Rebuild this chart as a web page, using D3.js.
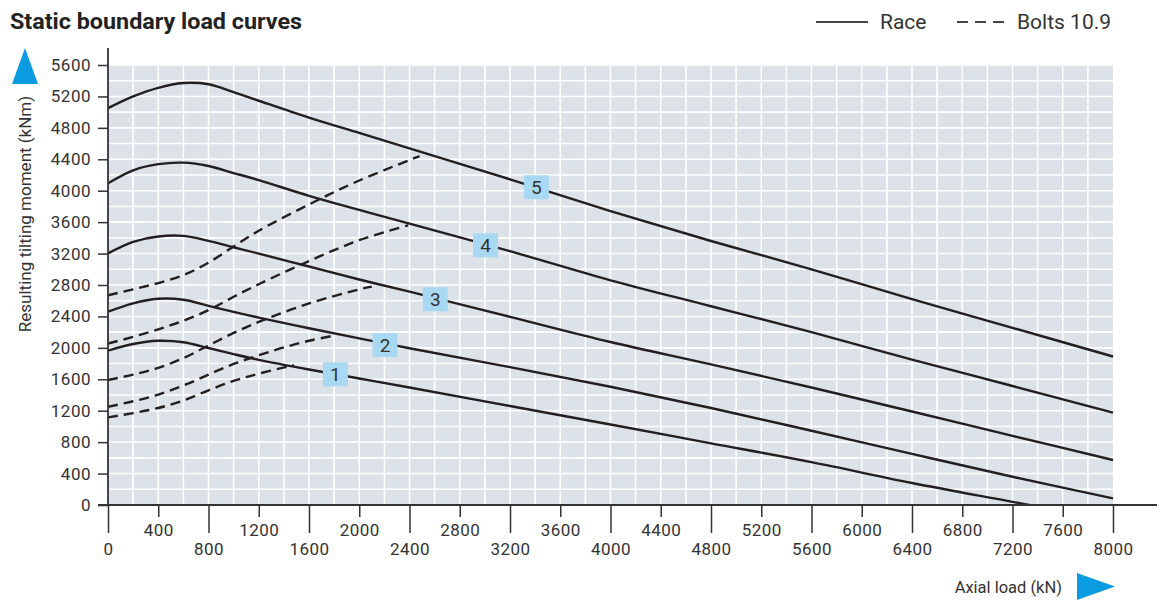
<!DOCTYPE html>
<html>
<head>
<meta charset="utf-8">
<script src="https://cdn.jsdelivr.net/npm/d3@7"></script>
<style>
  html, body { margin: 0; padding: 0; background: #fff; }
  svg { display: block; font-family: Roboto, "Noto Sans", sans-serif; }
</style>
</head>
<body>
<svg id="chart" width="1167" height="600"></svg>
<script>
// ---- data ----
const raceLoads = [0, 200, 400, 600, 800, 1000, 1200, 1600, 2000, 2400, 3200, 4000, 4800, 5600, 6400, 7200, 8000];
const race1 = [1964, 2049, 2090, 2072, 1998, 1920, 1848, 1725, 1610, 1495, 1260, 1025, 785, 545, 280, 40, -200];
const race2 = [2460, 2567, 2625, 2612, 2535, 2458, 2385, 2250, 2120, 1995, 1755, 1505, 1235, 945, 650, 360, 85];
const race3 = [3203, 3350, 3418, 3425, 3362, 3280, 3200, 3035, 2870, 2715, 2395, 2075, 1790, 1495, 1190, 880, 573];
const race4 = [4094, 4260, 4338, 4357, 4315, 4225, 4135, 3935, 3755, 3580, 3230, 2860, 2530, 2200, 1850, 1515, 1175];
const race5 = [5050, 5200, 5310, 5370, 5355, 5255, 5145, 4930, 4735, 4540, 4145, 3740, 3360, 3000, 2620, 2255, 1890];

const bolt1 = [[0,1115],[200,1170],[400,1235],[600,1330],[800,1460],[1000,1580],[1200,1672],[1480,1780]];
const bolt2 = [[0,1250],[200,1320],[400,1405],[600,1520],[800,1660],[1000,1795],[1200,1905],[1400,2005],[1600,2090],[1810,2160]];
const bolt3 = [[0,1590],[200,1660],[400,1745],[600,1870],[800,2030],[1000,2190],[1200,2330],[1600,2565],[2000,2745],[2100,2780]];
const bolt4 = [[0,2055],[200,2140],[400,2235],[600,2345],[800,2480],[1000,2650],[1200,2810],[1600,3105],[2000,3370],[2390,3560]];
const bolt5 = [[0,2670],[200,2745],[400,2825],[600,2925],[800,3085],[1000,3290],[1200,3490],[1600,3825],[2000,4130],[2480,4440]];

const labelText = ["1", "2", "3", "4", "5"];
const labelX = [1810, 2205, 2605, 3005, 3410];
const labelY = [1663, 2036, 2618, 3305, 4044];

const yTicks = [0, 400, 800, 1200, 1600, 2000, 2400, 2800, 3200, 3600, 4000, 4400, 4800, 5200, 5600];
const xTicksMajor = [0, 800, 1600, 2400, 3200, 4000, 4800, 5600, 6400, 7200, 8000];
const xTicksMinor = [400, 1200, 2000, 2800, 3600, 4400, 5200, 6000, 6800, 7600];

const titleText = "Static boundary load curves";
const yTitle = "Resulting tilting moment (kNm)";
const xTitle = "Axial load (kN)";
const legendNames = ["Race", "Bolts 10.9"];

// ---- drawing ----
const svg = d3.select("#chart");
const x = d3.scaleLinear().domain([0, 8000]).range([108, 1113]);
const y = d3.scaleLinear().domain([0, 5600]).range([505, 65]);
const ink = "#231f20";
const textCol = "#333";
const blue = "#0a9be0";

svg.append("text").attr("x", 10).attr("y", 29)
  .attr("font-size", 22).attr("font-weight", 700).attr("fill", "#222")
  .attr("textLength", 292).attr("lengthAdjust", "spacingAndGlyphs")
  .text(titleText);

// legend
svg.append("line").attr("x1", 816).attr("x2", 868).attr("y1", 22).attr("y2", 22)
  .attr("stroke", "#444").attr("stroke-width", 1.8);
svg.append("text").attr("x", 880).attr("y", 29).attr("font-size", 21).attr("fill", textCol).text(legendNames[0]);
svg.append("line").attr("x1", 957).attr("x2", 1004).attr("y1", 22).attr("y2", 22)
  .attr("stroke", "#444").attr("stroke-width", 1.8).attr("stroke-dasharray", "11 7");
svg.append("text").attr("x", 1017).attr("y", 29).attr("font-size", 21).attr("fill", textCol).text(legendNames[1]);

// plot background
svg.append("rect").attr("x", x(0)).attr("y", y(5600))
  .attr("width", x(8000) - x(0)).attr("height", y(0) - y(5600)).attr("fill", "#dce2e7");

const grid = svg.append("g").attr("stroke", "#fff").attr("stroke-width", 1.6);
d3.range(200, 8000, 200).forEach(v => {
  grid.append("line").attr("x1", x(v)).attr("x2", x(v)).attr("y1", y(0)).attr("y2", y(5600));
});
d3.range(200, 5601, 200).forEach(v => {
  grid.append("line").attr("x1", x(0)).attr("x2", x(8000)).attr("y1", y(v)).attr("y2", y(v));
});

// clip
svg.append("clipPath").attr("id", "plotclip").append("rect")
  .attr("x", x(0)).attr("y", y(5600) - 5).attr("width", x(8000) - x(0) + 2).attr("height", y(0) - y(5600) + 5);

const lineGen = d3.line().x(d => x(d[0])).y(d => y(d[1])).curve(d3.curveCatmullRom.alpha(0.5));
const curves = svg.append("g").attr("clip-path", "url(#plotclip)");
[race1, race2, race3, race4, race5].forEach(vals => {
  const pts = raceLoads.map((l, i) => [l, vals[i]]);
  curves.append("path").attr("d", lineGen(pts)).attr("fill", "none")
    .attr("stroke", ink).attr("stroke-width", 2.4);
});
[bolt1, bolt2, bolt3, bolt4, bolt5].forEach(pts => {
  curves.append("path").attr("d", lineGen(pts)).attr("fill", "none")
    .attr("stroke", ink).attr("stroke-width", 2.4).attr("stroke-dasharray", "10 6");
});

// labels
labelText.forEach((t, i) => {
  const cx = x(labelX[i]), cy = y(labelY[i]);
  svg.append("rect").attr("x", cx - 12.5).attr("y", cy - 12).attr("width", 25).attr("height", 24)
    .attr("fill", "#a9d9f2");
  svg.append("text").attr("x", cx).attr("y", cy + 7).attr("text-anchor", "middle")
    .attr("font-size", 19).attr("fill", textCol).text(t);
});

// y axis
const yAxis = svg.append("g").attr("transform", `translate(${x(0)},0)`)
  .call(d3.axisLeft(y).tickValues(yTicks).tickSize(10).tickPadding(7).tickFormat(d3.format("d")));
yAxis.select(".domain").remove();
yAxis.selectAll("line").attr("stroke", "#333").attr("stroke-width", 1.5);
yAxis.selectAll("text").attr("font-size", 17).attr("fill", textCol).attr("font-family", "Roboto")
  .attr("letter-spacing", 0.5);
svg.append("line").attr("x1", x(0)).attr("x2", x(0)).attr("y1", 48).attr("y2", y(0))
  .attr("stroke", "#333").attr("stroke-width", 1.8);

// x axes
const xMaj = svg.append("g").attr("transform", `translate(0,${y(0)})`)
  .call(d3.axisBottom(x).tickValues(xTicksMajor).tickSize(28).tickPadding(9.9).tickFormat(d3.format("d")));
const xMin = svg.append("g").attr("transform", `translate(0,${y(0)})`)
  .call(d3.axisBottom(x).tickValues(xTicksMinor).tickSize(12).tickPadding(6.9).tickFormat(d3.format("d")));
[xMaj, xMin].forEach(g => {
  g.select(".domain").remove();
  g.selectAll("line").attr("stroke", "#333").attr("stroke-width", 1.5);
  g.selectAll("text").attr("font-size", 17).attr("fill", textCol).attr("font-family", "Roboto")
    .attr("letter-spacing", 0.5);
});
svg.append("line").attr("x1", x(0) - 10).attr("x2", 1157).attr("y1", y(0)).attr("y2", y(0))
  .attr("stroke", "#333").attr("stroke-width", 1.8);

// axis titles
svg.append("text").attr("transform", "translate(31,214) rotate(-90)")
  .attr("text-anchor", "middle").attr("font-size", 17).attr("fill", textCol).text(yTitle);
svg.append("text").attr("x", 1062).attr("y", 593).attr("text-anchor", "end")
  .attr("font-size", 16.5).attr("fill", textCol).text(xTitle);

// arrows
svg.append("path").attr("d", "M12,84 L25,48 L38,84 Z").attr("fill", blue);
svg.append("path").attr("d", "M1077,573 L1115,586.5 L1077,600 Z").attr("fill", blue);
</script>
</body>
</html>
